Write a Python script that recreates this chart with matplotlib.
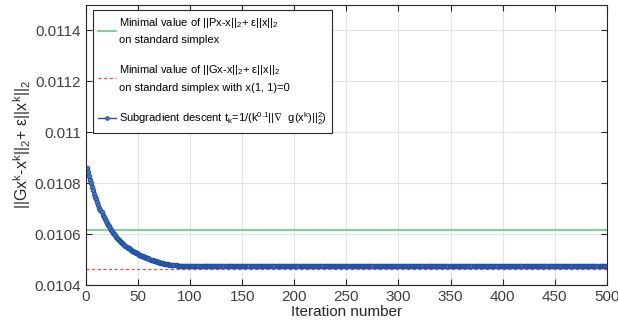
import numpy as np
import matplotlib
matplotlib.use("Agg")
import matplotlib.pyplot as plt
from matplotlib.ticker import FuncFormatter, MultipleLocator

plt.rcParams['font.family'] = ['Liberation Sans', 'DejaVu Sans']
plt.rcParams['mathtext.fontset'] = 'custom'
plt.rcParams['mathtext.rm'] = 'Liberation Sans'
plt.rcParams['mathtext.it'] = 'Liberation Sans:italic'
plt.rcParams['mathtext.bf'] = 'Liberation Sans:bold'
plt.rcParams['mathtext.fallback'] = 'stixsans'
plt.rcParams['mathtext.default'] = 'regular'

# Datos leídos de la figura
# primeras 90 iteraciones del descenso por subgradiente
valores_inicio = [
    0.010860, 0.010844, 0.010828, 0.010813, 0.010799, 0.010785, 0.010772, 0.010759, 0.010747, 0.010736,
    0.010725, 0.010714, 0.010704, 0.010694, 0.010685, 0.010676, 0.010668, 0.010660, 0.010652, 0.010644,
    0.010637, 0.010630, 0.010624, 0.010618, 0.010611, 0.010606, 0.010600, 0.010595, 0.010590, 0.010585,
    0.010580, 0.010576, 0.010572, 0.010568, 0.010564, 0.010560, 0.010556, 0.010553, 0.010550, 0.010547,
    0.010544, 0.010541, 0.010538, 0.010535, 0.010533, 0.010530, 0.010528, 0.010526, 0.010524, 0.010522,
    0.010520, 0.010518, 0.010516, 0.010514, 0.010513, 0.010511, 0.010510, 0.010508, 0.010507, 0.010505,
    0.010502, 0.010500, 0.010499, 0.010497, 0.010496, 0.010494, 0.010493, 0.010492, 0.010490, 0.010489,
    0.010488, 0.010487, 0.010486, 0.010485, 0.010484, 0.010483, 0.010482, 0.010481, 0.010481, 0.010480,
    0.010479, 0.010479, 0.010478, 0.010478, 0.010477, 0.010477, 0.010477, 0.010476, 0.010476, 0.010476,
]
valor_meseta = 0.010476      # a partir de la iteración ~90
n_iter = 500
min_px = 0.010616            # mínimo ||Px-x||_2 + eps||x||_2
min_gx = 0.0104616           # mínimo ||Gx-x||_2 + eps||x||_2 con x(1,1)=0

iteraciones = np.arange(1, n_iter + 1)
valores = np.array(valores_inicio + [valor_meseta] * (n_iter - len(valores_inicio)))

etiquetas = [
    "Minimal value of ||Px-x||$_2$+ ε||x||$_2$\non standard simplex",
    "Minimal value of ||Gx-x||$_2$+ ε||x||$_2$\non standard simplex with x(1, 1)=0",
    r"Subgradient descent t$_k$=1/(k$^{0.1}$||$\nabla$  g(x$^k$)||$_2^2$)",
]

verde = '#6fcf94'
rojo = '#f04848'
azul = '#2152a3'

fig = plt.figure(figsize=(6.18, 3.30), dpi=100)
ax = fig.add_axes([0.139, 0.136, 0.843, 0.850])

ax.axhline(min_px, color=verde, lw=1.3, label=etiquetas[0])
ax.axhline(min_gx, color=rojo, lw=0.9, ls=(0, (2.5, 2)), label=etiquetas[1])
ax.plot(iteraciones, valores, color=azul, lw=1.0, marker='o', ms=3.2,
        mfc='#4f78bd', mec=azul, mew=0.7, label=etiquetas[2])

ax.set_xlim(0, 500)
ax.set_ylim(0.0104, 0.0115)
ax.xaxis.set_major_locator(MultipleLocator(50))
ax.set_yticks([0.0104, 0.0106, 0.0108, 0.0110, 0.0112, 0.0114])
ax.yaxis.set_major_formatter(FuncFormatter(lambda v, p: f"{v:g}"))

ax.grid(True, color='#e3e3e3', lw=0.8)
ax.set_axisbelow(True)
ax.tick_params(direction='in', top=True, right=True, length=4, width=0.8,
               colors='#262626', labelsize=11, labelcolor='#404040')
for s in ax.spines.values():
    s.set_color('#262626')
    s.set_linewidth(0.8)

ax.set_xlabel("Iteration number", fontsize=11, color='#262626', labelpad=1)
ax.set_ylabel("||Gx$^k$-x$^k$||$_2$+ ε||x$^k$||$_2$", fontsize=11.5, color='#262626', labelpad=1)

leg = ax.legend(loc='upper left', fontsize=8, handlelength=1.6, handletextpad=0.25,
                labelspacing=1.6, borderpad=0.5, borderaxespad=0, fancybox=False,
                framealpha=1, edgecolor='#262626', markerscale=0.8,
                bbox_to_anchor=(0.013, 0.98))
leg.get_frame().set_linewidth(0.8)
for t in leg.get_texts():
    t.set_linespacing(1.7)

fig.savefig("out.png", dpi=100)
